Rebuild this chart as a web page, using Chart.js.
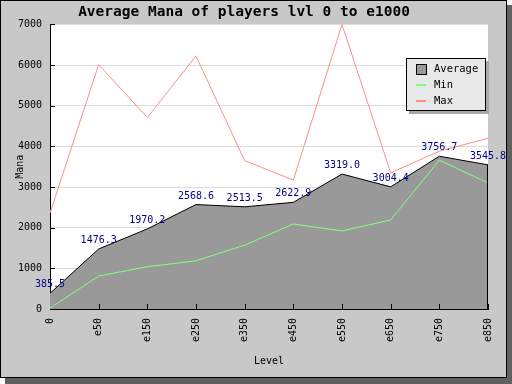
<!DOCTYPE html>
<html>
<head>
<meta charset="utf-8">
<script src="https://cdn.jsdelivr.net/npm/chart.js@4/dist/chart.umd.min.js"></script>
<style>
    body { margin: 0; background: #fff; }
    canvas { display: block; }
</style>
</head>
<body>
<canvas id="manaChart" width="512" height="384"></canvas>
<script>
// chart data
var levels = ['0', 'e50', 'e150', 'e250', 'e350', 'e450', 'e550', 'e650', 'e750', 'e850'];
var avgMana = [385.5, 1476.3, 1970.2, 2568.6, 2513.5, 2622.9, 3319.0, 3004.4, 3756.7, 3545.8];
var minMana = [20, 810, 1040, 1185, 1570, 2090, 1920, 2190, 3660, 3100];
var maxMana = [2360, 6010, 4710, 6220, 3650, 3170, 7000, 3350, 3880, 4200];
var manaTicks = [0, 1000, 2000, 3000, 4000, 5000, 6000, 7000];

var MONO = '"DejaVu Sans Mono", "Liberation Mono", monospace';

Chart.defaults.color = '#000';
Chart.defaults.font.family = MONO;
Chart.defaults.font.size = 10;

/**
 * Grey frame with a drop shadow, white plot area
 */
var framePlugin = {
    id: 'frame',
    beforeDraw: function (chart) {
        var ctx = chart.ctx;
        var area = chart.chartArea;
        ctx.save();
        ctx.fillStyle = '#fff';
        ctx.fillRect(0, 0, chart.width, chart.height);
        ctx.fillStyle = '#606060';
        ctx.fillRect(5, 5, 507, 379);
        ctx.fillStyle = '#c8c8c8';
        ctx.fillRect(0, 0, 507, 378);
        ctx.strokeStyle = '#000';
        ctx.lineWidth = 1;
        ctx.strokeRect(0.5, 0.5, 506, 377);
        ctx.fillStyle = '#fff';
        ctx.fillRect(area.left, area.top, area.right - area.left, area.bottom - area.top);
        ctx.restore();
    }
};

/**
 * Value labels over the average, inner tick marks, legend box
 */
var extrasPlugin = {
    id: 'extras',
    afterDatasetsDraw: function (chart) {
        var ctx = chart.ctx;
        var area = chart.chartArea;
        var xs = chart.scales.x;
        var ys = chart.scales.y;
        var meta = chart.getDatasetMeta(0);
        var i;

        ctx.save();
        // right edge of the filled area
        var last = meta.data[meta.data.length - 1];
        ctx.strokeStyle = '#000';
        ctx.lineWidth = 1;
        ctx.beginPath();
        ctx.moveTo(Math.round(last.x) - 0.5, last.y);
        ctx.lineTo(Math.round(last.x) - 0.5, area.bottom);
        ctx.stroke();

        // inner ticks
        ctx.beginPath();
        for (i = 1; i < levels.length; i++) {
            var px = Math.round(xs.getPixelForTick(i)) + 0.5;
            ctx.moveTo(px, area.bottom);
            ctx.lineTo(px, area.bottom - 5);
        }
        for (i = 0; i < ys.ticks.length; i++) {
            var py = Math.round(ys.getPixelForTick(i)) + 0.5;
            ctx.moveTo(area.left, py);
            ctx.lineTo(area.left + 5, py);
        }
        ctx.stroke();

        // value labels
        ctx.fillStyle = '#000088';
        ctx.font = '10px ' + MONO;
        ctx.textAlign = 'center';
        ctx.textBaseline = 'alphabetic';
        for (i = 0; i < meta.data.length; i++) {
            var pt = meta.data[i];
            ctx.fillText(avgMana[i].toFixed(1), pt.x, pt.y - 6);
        }

        // legend
        var bx = 406, by = 58, bw = 80, bh = 53;
        ctx.fillStyle = '#a8a8a8';
        ctx.fillRect(bx + 3, by + 3, bw, bh);
        ctx.fillStyle = '#e8e8e8';
        ctx.fillRect(bx, by, bw, bh);
        ctx.strokeStyle = '#000';
        ctx.strokeRect(bx + 0.5, by + 0.5, bw - 1, bh - 1);

        var sets = chart.data.datasets;
        ctx.textAlign = 'left';
        ctx.textBaseline = 'middle';
        ctx.font = '10.5px ' + MONO;
        for (i = 0; i < sets.length; i++) {
            var rowY = 69 + i * 16;
            if (sets[i].fill) {
                ctx.fillStyle = sets[i].backgroundColor;
                ctx.fillRect(416, rowY - 5, 11, 11);
                ctx.strokeStyle = '#000';
                ctx.strokeRect(416.5, rowY - 4.5, 10, 10);
            } else {
                ctx.strokeStyle = sets[i].borderColor;
                ctx.lineWidth = 2;
                ctx.beginPath();
                ctx.moveTo(416, rowY);
                ctx.lineTo(426, rowY);
                ctx.stroke();
                ctx.lineWidth = 1;
            }
            ctx.fillStyle = '#000';
            ctx.fillText(sets[i].label, 434, rowY);
        }
        ctx.restore();
    }
};

var ctx = document.getElementById('manaChart').getContext('2d');
var manaChart = new Chart(ctx, {
    type: 'line',
    data: {
        labels: levels,
        datasets: [{
            label: 'Average',
            data: avgMana,
            order: 10,   // drawn first, the lines go over the fill
            fill: 'origin',
            backgroundColor: '#999999',
            borderColor: '#000',
            borderWidth: 1,
            pointRadius: 0,
            tension: 0
        }, {
            label: 'Min',
            data: minMana,
            order: 1,
            fill: false,
            borderColor: '#80ff80',
            borderWidth: 1,
            pointRadius: 0,
            tension: 0
        }, {
            label: 'Max',
            data: maxMana,
            order: 0,
            fill: false,
            borderColor: '#ff8c8c',
            borderWidth: 1,
            pointRadius: 0,
            tension: 0
        }]
    },
    options: {
        responsive: false,
        animation: false,
        devicePixelRatio: 1,
        layout: { padding: { left: 0, right: 24, top: 0, bottom: 0 } },
        plugins: {
            legend: { display: false },
            tooltip: { enabled: false },
            title: {
                display: true,
                text: 'Average Mana of players lvl 0 to e1000',
                color: '#000',
                font: { family: MONO, size: 14.5, weight: 'bold', lineHeight: 1.2 },
                padding: { top: 4, bottom: 3 }
            }
        },
        scales: {
            x: {
                offset: false,
                grid: { display: false, drawTicks: false },
                border: { color: '#000', width: 1 },
                ticks: { autoSkip: false, minRotation: 90, maxRotation: 90, padding: 9, color: '#000' },
                title: { display: true, text: 'Level', color: '#000', padding: { top: 0, bottom: 17 } },
                afterFit: function (scale) { scale.height = 75; }
            },
            y: {
                min: 0,
                max: 7000,
                afterBuildTicks: function (scale) {
                    scale.ticks = manaTicks.map(function (v) { return { value: v }; });
                },
                grid: { color: '#dddddd', drawTicks: false },
                border: { color: '#000', width: 1 },
                ticks: {
                    padding: 8,
                    color: '#000',
                    callback: function (value) { return String(value); }
                },
                title: { display: true, text: 'Mana', color: '#000', padding: { top: 14, bottom: 0 } },
                afterFit: function (scale) { scale.width = 50; }
            }
        }
    },
    plugins: [framePlugin, extrasPlugin]
});
</script>
</body>
</html>
